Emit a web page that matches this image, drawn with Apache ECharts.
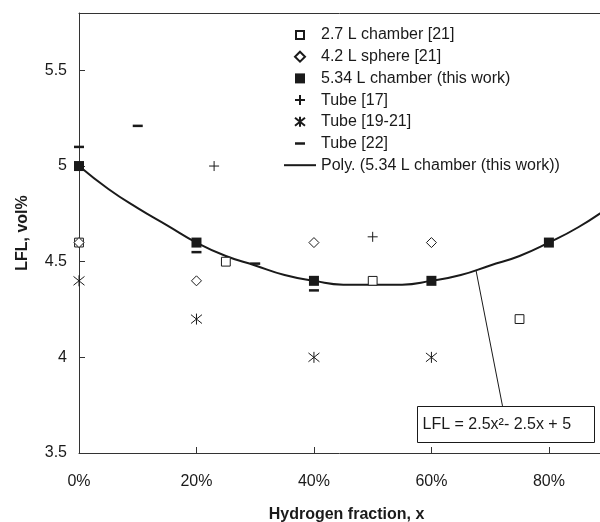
<!DOCTYPE html>
<html>
<head>
<meta charset="utf-8">
<script src="https://cdn.jsdelivr.net/npm/echarts@6/dist/echarts.min.js"></script>
<style>
  html, body { margin: 0; padding: 0; background: #fff; }
  #chart { width: 600px; height: 522px; }
</style>
</head>
<body>
<div id="chart"></div>
<script>
// data: [hydrogen fraction, LFL vol%]
var chamber27 = [[0, 4.6], [0.25, 4.5], [0.5, 4.4], [0.75, 4.2]];
var sphere42 = [[0, 4.6], [0.2, 4.4], [0.4, 4.6], [0.6, 4.6]];
var chamber534 = [[0, 5.0], [0.2, 4.6], [0.4, 4.4], [0.6, 4.4], [0.8, 4.6]];
var tube17 = [[0.23, 5.0], [0.5, 4.63]];
var tube1921 = [[0, 4.4], [0.2, 4.2], [0.4, 4.0], [0.6, 4.0]];
var tube22 = [[0, 5.1], [0.1, 5.21], [0.2, 4.55], [0.3, 4.49], [0.4, 4.35]];
// poly trend line
var polyX = [0, 0.05, 0.1, 0.15, 0.2, 0.25, 0.3, 0.35, 0.4, 0.45, 0.5, 0.55, 0.6, 0.65, 0.7, 0.75, 0.8, 0.85, 0.9];
var polyY = [5.0, 4.88, 4.78, 4.69, 4.6, 4.53, 4.48, 4.43, 4.4, 4.38, 4.38, 4.38, 4.4, 4.43, 4.48, 4.53, 4.6, 4.68, 4.78];
var legendNames = ['2.7 L chamber [21]', '4.2 L sphere [21]', '5.34 L chamber (this work)',
  'Tube [17]', 'Tube [19-21]', 'Tube [22]', 'Poly. (5.34 L chamber (this work))'];
var polyLabel = 'LFL = 2.5x²- 2.5x + 5';

var font = "'Liberation Sans', Arial, sans-serif";
var ink = '#1a1a1a';

// marker shapes, all drawn in a 10x10 box (the leading moves fix the box)
var symSquareOpen = 'path://M0,0M10,10M1,1h8v8h-8z';
var symDiamond = 'path://M5,0L10,5L5,10L0,5z';
var symSquare = 'path://M0,0h10v10h-10z';
var symPlus = 'path://M5,0L5,10M0,5L10,5';
var symStar = 'path://M0,1L10,9M10,1L0,9M5,0L5,10';
var symDash = 'path://M0,0M10,10M0,3.75h10v2.5h-10z';
var symLine = 'path://M0,0M32,10M0,4h32v2h-32z';

var myChart = echarts.init(document.getElementById('chart'));

var polyData = polyX.map(function (x, i) { return [x, polyY[i]]; });

function marker(name, symbol, size, data, filled) {
  return {
    name: name, type: 'scatter', data: data,
    symbol: symbol, symbolSize: size, symbolKeepAspect: true,
    itemStyle: filled
      ? { color: ink, opacity: 1 }
      : { color: filled === false ? '#fff' : 'none', borderColor: ink, borderWidth: 1, opacity: 1 },
    z: filled ? 4 : 3
  };
}

var option = {
  animation: false,
  backgroundColor: '#fff',
  textStyle: { fontFamily: font },
  grid: { left: 79, top: 13, bottom: 69, right: 0, outerBoundsMode: 'none', containLabel: false },
  legend: {
    data: [
      { name: legendNames[0], icon: symSquareOpen },
      { name: legendNames[1], icon: symDiamond },
      { name: legendNames[2], icon: symSquare },
      { name: legendNames[3], icon: symPlus },
      { name: legendNames[4], icon: symStar },
      { name: legendNames[5], icon: symDash },
      { name: legendNames[6], icon: symLine }
    ],
    orient: 'vertical',
    left: 284, top: 27, padding: 0,
    itemWidth: 32, itemHeight: 10, itemGap: 5.7,
    symbolKeepAspect: true,
    textStyle: { fontFamily: font, fontSize: 16, color: ink },
    selectedMode: false
  },
  xAxis: [{
    type: 'value', min: 0, max: 0.887, interval: 0.2,
    name: 'Hydrogen fraction, x', nameLocation: 'middle', nameGap: 54,
    nameTextStyle: { fontFamily: font, fontSize: 16, fontWeight: 'bold', color: ink, padding: [0, 0, 0, 14] },
    axisLine: { lineStyle: { color: '#333', width: 1 } },
    axisTick: { inside: true, length: 6, lineStyle: { color: '#333' } },
    axisLabel: {
      margin: 21, fontSize: 16, color: ink, fontFamily: font, showMaxLabel: false,
      formatter: function (v) { return Math.round(v * 100) + '%'; }
    },
    splitLine: { show: false }
  }, {
    // top frame line only
    type: 'value', position: 'top', min: 0, max: 0.887,
    axisLine: { show: true, lineStyle: { color: '#333', width: 1 } },
    axisTick: { show: false }, axisLabel: { show: false }, splitLine: { show: false }
  }],
  yAxis: {
    type: 'value', min: 3.5, max: 5.8, interval: 0.5,
    name: 'LFL, vol%', nameLocation: 'middle', nameGap: 48,
    nameTextStyle: { fontFamily: font, fontSize: 16, fontWeight: 'bold', color: ink },
    axisLine: { show: true, lineStyle: { color: '#333', width: 1 } },
    axisTick: { show: true, inside: true, length: 6, lineStyle: { color: '#333' } },
    axisLabel: { margin: 12, fontSize: 16, color: ink, fontFamily: font, showMaxLabel: false },
    splitLine: { show: false }
  },
  series: [
    {
      name: legendNames[6], type: 'line', data: polyData,
      smooth: true, symbol: 'none',
      lineStyle: { color: ink, width: 2 }, itemStyle: { color: ink },
      z: 2,
      markLine: {
        silent: true, symbol: 'none', label: { show: false },
        lineStyle: { color: ink, width: 1, type: 'solid' },
        data: [[{ coord: [0.676, 4.453] }, { coord: [0.721, 3.746] }]]
      }
    },
    marker(legendNames[0], symSquareOpen, 11, chamber27, false),
    marker(legendNames[1], symDiamond, 10, sphere42, false),
    marker(legendNames[2], symSquare, 10, chamber534, true),
    marker(legendNames[3], symPlus, 10, tube17),
    marker(legendNames[4], symStar, 11, tube1921),
    marker(legendNames[5], symDash, 10, tube22, true)
  ],
  graphic: [{
    type: 'group', left: 417, top: 406,
    children: [
      { type: 'rect', shape: { x: 0, y: 0, width: 177, height: 36 },
        style: { fill: '#fff', stroke: ink, lineWidth: 1 } },
      { type: 'text', x: 5, y: 10,
        style: { text: polyLabel, font: '16px ' + font, fill: ink } }
    ]
  }]
};

myChart.setOption(option);
</script>
</body>
</html>
